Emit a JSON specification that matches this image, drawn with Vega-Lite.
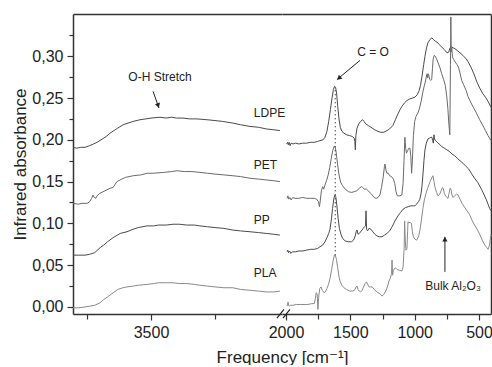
{
  "$schema": "https://vega.github.io/schema/vega-lite/v6.json",
  "padding": {"left": 11, "top": 14, "right": 0, "bottom": 0},
  "background": "white",
  "config": {
    "font": "Liberation Sans",
    "view": {"stroke": null},
    "axis": {
      "grid": false,
      "domainColor": "#333333",
      "tickColor": "#333333",
      "labelColor": "#222222",
      "titleColor": "#222222",
      "labelFont": "Liberation Sans",
      "titleFont": "Liberation Sans, DejaVu Sans",
      "titleFontWeight": "normal",
      "domainWidth": 1.5,
      "tickWidth": 1.2
    }
  },
  "datasets": {
    "labels": [
      {"s": "LDPE", "f": 3098, "a": 0.232},
      {"s": "PET", "f": 3098, "a": 0.170},
      {"s": "PP", "f": 3098, "a": 0.104},
      {"s": "PLA", "f": 3098, "a": 0.041}
    ],
    "spectra": [
      {"s":"LDPE","f":3805,"a":0.191},{"s":"LDPE","f":3790,"a":0.190},{"s":"LDPE","f":3775,"a":0.191},{"s":"LDPE","f":3758,"a":0.191},{"s":"LDPE","f":3740,"a":0.193},{"s":"LDPE","f":3725,"a":0.195},{"s":"LDPE","f":3711,"a":0.197},{"s":"LDPE","f":3690,"a":0.201},{"s":"LDPE","f":3675,"a":0.204},{"s":"LDPE","f":3660,"a":0.208},{"s":"LDPE","f":3645,"a":0.211},{"s":"LDPE","f":3630,"a":0.214},{"s":"LDPE","f":3609,"a":0.218},{"s":"LDPE","f":3590,"a":0.220},{"s":"LDPE","f":3570,"a":0.222},{"s":"LDPE","f":3543,"a":0.224},{"s":"LDPE","f":3520,"a":0.225},{"s":"LDPE","f":3500,"a":0.226},{"s":"LDPE","f":3465,"a":0.227},{"s":"LDPE","f":3440,"a":0.226},{"s":"LDPE","f":3420,"a":0.227},{"s":"LDPE","f":3400,"a":0.226},{"s":"LDPE","f":3375,"a":0.226},{"s":"LDPE","f":3350,"a":0.225},{"s":"LDPE","f":3320,"a":0.225},{"s":"LDPE","f":3281,"a":0.224},{"s":"LDPE","f":3250,"a":0.223},{"s":"LDPE","f":3220,"a":0.222},{"s":"LDPE","f":3180,"a":0.220},{"s":"LDPE","f":3150,"a":0.218},{"s":"LDPE","f":3113,"a":0.216},{"s":"LDPE","f":3080,"a":0.215},{"s":"LDPE","f":3050,"a":0.213},{"s":"LDPE","f":3020,"a":0.212},{"s":"LDPE","f":2996,"a":0.211},
      {"s":"PET","f":3805,"a":0.124},{"s":"PET","f":3785,"a":0.123},{"s":"PET","f":3770,"a":0.124},{"s":"PET","f":3750,"a":0.124},{"s":"PET","f":3740,"a":0.126},{"s":"PET","f":3732,"a":0.130},{"s":"PET","f":3727,"a":0.134},{"s":"PET","f":3722,"a":0.131},{"s":"PET","f":3716,"a":0.130},{"s":"PET","f":3711,"a":0.133},{"s":"PET","f":3700,"a":0.136},{"s":"PET","f":3680,"a":0.139},{"s":"PET","f":3660,"a":0.142},{"s":"PET","f":3648,"a":0.143},{"s":"PET","f":3640,"a":0.147},{"s":"PET","f":3633,"a":0.150},{"s":"PET","f":3621,"a":0.152},{"s":"PET","f":3600,"a":0.155},{"s":"PET","f":3570,"a":0.157},{"s":"PET","f":3540,"a":0.158},{"s":"PET","f":3515,"a":0.160},{"s":"PET","f":3492,"a":0.160},{"s":"PET","f":3450,"a":0.161},{"s":"PET","f":3420,"a":0.162},{"s":"PET","f":3398,"a":0.163},{"s":"PET","f":3370,"a":0.162},{"s":"PET","f":3340,"a":0.162},{"s":"PET","f":3309,"a":0.161},{"s":"PET","f":3280,"a":0.160},{"s":"PET","f":3250,"a":0.159},{"s":"PET","f":3215,"a":0.158},{"s":"PET","f":3180,"a":0.157},{"s":"PET","f":3150,"a":0.156},{"s":"PET","f":3113,"a":0.154},{"s":"PET","f":3080,"a":0.153},{"s":"PET","f":3050,"a":0.152},{"s":"PET","f":3020,"a":0.151},{"s":"PET","f":2996,"a":0.150},
      {"s":"PP","f":3805,"a":0.062},{"s":"PP","f":3785,"a":0.062},{"s":"PP","f":3758,"a":0.062},{"s":"PP","f":3740,"a":0.063},{"s":"PP","f":3720,"a":0.065},{"s":"PP","f":3699,"a":0.071},{"s":"PP","f":3685,"a":0.074},{"s":"PP","f":3670,"a":0.078},{"s":"PP","f":3648,"a":0.083},{"s":"PP","f":3620,"a":0.088},{"s":"PP","f":3594,"a":0.090},{"s":"PP","f":3570,"a":0.093},{"s":"PP","f":3550,"a":0.095},{"s":"PP","f":3516,"a":0.097},{"s":"PP","f":3490,"a":0.097},{"s":"PP","f":3470,"a":0.098},{"s":"PP","f":3440,"a":0.098},{"s":"PP","f":3414,"a":0.099},{"s":"PP","f":3390,"a":0.099},{"s":"PP","f":3360,"a":0.098},{"s":"PP","f":3330,"a":0.098},{"s":"PP","f":3309,"a":0.097},{"s":"PP","f":3280,"a":0.096},{"s":"PP","f":3250,"a":0.095},{"s":"PP","f":3215,"a":0.094},{"s":"PP","f":3180,"a":0.092},{"s":"PP","f":3150,"a":0.091},{"s":"PP","f":3113,"a":0.090},{"s":"PP","f":3080,"a":0.089},{"s":"PP","f":3050,"a":0.088},{"s":"PP","f":3020,"a":0.087},{"s":"PP","f":2996,"a":0.086},
      {"s":"PLA","f":3805,"a":-0.001},{"s":"PLA","f":3785,"a":-0.001},{"s":"PLA","f":3758,"a":0.000},{"s":"PLA","f":3740,"a":0.001},{"s":"PLA","f":3720,"a":0.002},{"s":"PLA","f":3699,"a":0.005},{"s":"PLA","f":3685,"a":0.009},{"s":"PLA","f":3670,"a":0.012},{"s":"PLA","f":3648,"a":0.017},{"s":"PLA","f":3630,"a":0.021},{"s":"PLA","f":3610,"a":0.023},{"s":"PLA","f":3594,"a":0.024},{"s":"PLA","f":3570,"a":0.025},{"s":"PLA","f":3550,"a":0.026},{"s":"PLA","f":3516,"a":0.027},{"s":"PLA","f":3490,"a":0.028},{"s":"PLA","f":3470,"a":0.029},{"s":"PLA","f":3440,"a":0.029},{"s":"PLA","f":3414,"a":0.029},{"s":"PLA","f":3390,"a":0.028},{"s":"PLA","f":3360,"a":0.028},{"s":"PLA","f":3330,"a":0.027},{"s":"PLA","f":3309,"a":0.026},{"s":"PLA","f":3280,"a":0.025},{"s":"PLA","f":3250,"a":0.024},{"s":"PLA","f":3215,"a":0.023},{"s":"PLA","f":3180,"a":0.023},{"s":"PLA","f":3150,"a":0.021},{"s":"PLA","f":3113,"a":0.020},{"s":"PLA","f":3080,"a":0.019},{"s":"PLA","f":3050,"a":0.018},{"s":"PLA","f":3020,"a":0.018},{"s":"PLA","f":2996,"a":0.019},
      {"s":"LDPE","f":1995,"a":0.195},{"s":"LDPE","f":1988,"a":0.197},{"s":"LDPE","f":1982,"a":0.194},{"s":"LDPE","f":1976,"a":0.197},{"s":"LDPE","f":1968,"a":0.193},{"s":"LDPE","f":1960,"a":0.196},{"s":"LDPE","f":1945,"a":0.195},{"s":"LDPE","f":1925,"a":0.196},{"s":"LDPE","f":1900,"a":0.195},{"s":"LDPE","f":1870,"a":0.196},{"s":"LDPE","f":1840,"a":0.196},{"s":"LDPE","f":1810,"a":0.197},{"s":"LDPE","f":1780,"a":0.197},{"s":"LDPE","f":1755,"a":0.198},{"s":"LDPE","f":1736,"a":0.199},{"s":"LDPE","f":1712,"a":0.200},{"s":"LDPE","f":1697,"a":0.203},{"s":"LDPE","f":1682,"a":0.210},{"s":"LDPE","f":1668,"a":0.222},{"s":"LDPE","f":1655,"a":0.236},{"s":"LDPE","f":1642,"a":0.250},{"s":"LDPE","f":1632,"a":0.260},{"s":"LDPE","f":1622,"a":0.264},{"s":"LDPE","f":1615,"a":0.263},{"s":"LDPE","f":1607,"a":0.256},{"s":"LDPE","f":1598,"a":0.240},{"s":"LDPE","f":1588,"a":0.225},{"s":"LDPE","f":1578,"a":0.215},{"s":"LDPE","f":1565,"a":0.210},{"s":"LDPE","f":1550,"a":0.208},{"s":"LDPE","f":1530,"a":0.206},{"s":"LDPE","f":1505,"a":0.205},{"s":"LDPE","f":1485,"a":0.204},{"s":"LDPE","f":1470,"a":0.202},{"s":"LDPE","f":1465,"a":0.198},{"s":"LDPE","f":1461,"a":0.188},{"s":"LDPE","f":1457,"a":0.205},{"s":"LDPE","f":1448,"a":0.214},{"s":"LDPE","f":1435,"a":0.219},{"s":"LDPE","f":1420,"a":0.222},{"s":"LDPE","f":1405,"a":0.224},{"s":"LDPE","f":1394,"a":0.222},{"s":"LDPE","f":1380,"a":0.219},{"s":"LDPE","f":1360,"a":0.217},{"s":"LDPE","f":1340,"a":0.215},{"s":"LDPE","f":1310,"a":0.212},{"s":"LDPE","f":1285,"a":0.210},{"s":"LDPE","f":1265,"a":0.209},{"s":"LDPE","f":1240,"a":0.209},{"s":"LDPE","f":1215,"a":0.211},{"s":"LDPE","f":1195,"a":0.213},{"s":"LDPE","f":1170,"a":0.217},{"s":"LDPE","f":1150,"a":0.224},{"s":"LDPE","f":1130,"a":0.231},{"s":"LDPE","f":1114,"a":0.236},{"s":"LDPE","f":1099,"a":0.240},{"s":"LDPE","f":1080,"a":0.244},{"s":"LDPE","f":1060,"a":0.247},{"s":"LDPE","f":1037,"a":0.249},{"s":"LDPE","f":1015,"a":0.250},{"s":"LDPE","f":998,"a":0.251},{"s":"LDPE","f":980,"a":0.254},{"s":"LDPE","f":965,"a":0.259},{"s":"LDPE","f":955,"a":0.265},{"s":"LDPE","f":943,"a":0.276},{"s":"LDPE","f":930,"a":0.290},{"s":"LDPE","f":920,"a":0.300},{"s":"LDPE","f":908,"a":0.310},{"s":"LDPE","f":897,"a":0.316},{"s":"LDPE","f":881,"a":0.320},{"s":"LDPE","f":866,"a":0.322},{"s":"LDPE","f":855,"a":0.320},{"s":"LDPE","f":840,"a":0.318},{"s":"LDPE","f":827,"a":0.317},{"s":"LDPE","f":810,"a":0.314},{"s":"LDPE","f":790,"a":0.311},{"s":"LDPE","f":770,"a":0.308},{"s":"LDPE","f":749,"a":0.304},{"s":"LDPE","f":735,"a":0.305},{"s":"LDPE","f":725,"a":0.310},{"s":"LDPE","f":712,"a":0.311},{"s":"LDPE","f":700,"a":0.310},{"s":"LDPE","f":687,"a":0.309},{"s":"LDPE","f":671,"a":0.307},{"s":"LDPE","f":655,"a":0.305},{"s":"LDPE","f":640,"a":0.303},{"s":"LDPE","f":620,"a":0.300},{"s":"LDPE","f":600,"a":0.297},{"s":"LDPE","f":580,"a":0.292},{"s":"LDPE","f":560,"a":0.286},{"s":"LDPE","f":540,"a":0.279},{"s":"LDPE","f":516,"a":0.269},{"s":"LDPE","f":495,"a":0.262},{"s":"LDPE","f":470,"a":0.255},{"s":"LDPE","f":450,"a":0.251},{"s":"LDPE","f":430,"a":0.246},{"s":"LDPE","f":407,"a":0.239},
      {"s":"PET","f":1992,"a":0.130},{"s":"PET","f":1985,"a":0.133},{"s":"PET","f":1978,"a":0.129},{"s":"PET","f":1970,"a":0.131},{"s":"PET","f":1960,"a":0.128},{"s":"PET","f":1948,"a":0.131},{"s":"PET","f":1930,"a":0.130},{"s":"PET","f":1900,"a":0.130},{"s":"PET","f":1870,"a":0.131},{"s":"PET","f":1840,"a":0.130},{"s":"PET","f":1810,"a":0.130},{"s":"PET","f":1780,"a":0.130},{"s":"PET","f":1762,"a":0.129},{"s":"PET","f":1748,"a":0.126},{"s":"PET","f":1740,"a":0.120},{"s":"PET","f":1733,"a":0.128},{"s":"PET","f":1725,"a":0.139},{"s":"PET","f":1715,"a":0.144},{"s":"PET","f":1707,"a":0.141},{"s":"PET","f":1697,"a":0.146},{"s":"PET","f":1685,"a":0.151},{"s":"PET","f":1672,"a":0.158},{"s":"PET","f":1660,"a":0.167},{"s":"PET","f":1648,"a":0.178},{"s":"PET","f":1637,"a":0.187},{"s":"PET","f":1627,"a":0.192},{"s":"PET","f":1619,"a":0.192},{"s":"PET","f":1610,"a":0.185},{"s":"PET","f":1600,"a":0.172},{"s":"PET","f":1588,"a":0.158},{"s":"PET","f":1575,"a":0.149},{"s":"PET","f":1560,"a":0.145},{"s":"PET","f":1540,"a":0.141},{"s":"PET","f":1515,"a":0.138},{"s":"PET","f":1490,"a":0.137},{"s":"PET","f":1470,"a":0.138},{"s":"PET","f":1450,"a":0.139},{"s":"PET","f":1430,"a":0.142},{"s":"PET","f":1415,"a":0.144},{"s":"PET","f":1405,"a":0.143},{"s":"PET","f":1390,"a":0.141},{"s":"PET","f":1375,"a":0.141},{"s":"PET","f":1355,"a":0.138},{"s":"PET","f":1335,"a":0.135},{"s":"PET","f":1315,"a":0.131},{"s":"PET","f":1300,"a":0.130},{"s":"PET","f":1285,"a":0.131},{"s":"PET","f":1270,"a":0.134},{"s":"PET","f":1258,"a":0.143},{"s":"PET","f":1245,"a":0.155},{"s":"PET","f":1235,"a":0.168},{"s":"PET","f":1231,"a":0.171},{"s":"PET","f":1222,"a":0.163},{"s":"PET","f":1215,"a":0.160},{"s":"PET","f":1205,"a":0.160},{"s":"PET","f":1195,"a":0.157},{"s":"PET","f":1180,"a":0.156},{"s":"PET","f":1165,"a":0.153},{"s":"PET","f":1155,"a":0.148},{"s":"PET","f":1145,"a":0.138},{"s":"PET","f":1135,"a":0.133},{"s":"PET","f":1115,"a":0.133},{"s":"PET","f":1100,"a":0.134},{"s":"PET","f":1090,"a":0.148},{"s":"PET","f":1083,"a":0.175},{"s":"PET","f":1076,"a":0.203},{"s":"PET","f":1070,"a":0.190},{"s":"PET","f":1064,"a":0.184},{"s":"PET","f":1055,"a":0.187},{"s":"PET","f":1045,"a":0.190},{"s":"PET","f":1037,"a":0.190},{"s":"PET","f":1030,"a":0.180},{"s":"PET","f":1024,"a":0.160},{"s":"PET","f":1018,"a":0.175},{"s":"PET","f":1010,"a":0.205},{"s":"PET","f":1000,"a":0.222},{"s":"PET","f":990,"a":0.228},{"s":"PET","f":975,"a":0.232},{"s":"PET","f":962,"a":0.238},{"s":"PET","f":950,"a":0.246},{"s":"PET","f":938,"a":0.256},{"s":"PET","f":928,"a":0.263},{"s":"PET","f":918,"a":0.269},{"s":"PET","f":910,"a":0.275},{"s":"PET","f":904,"a":0.279},{"s":"PET","f":899,"a":0.274},{"s":"PET","f":894,"a":0.279},{"s":"PET","f":889,"a":0.276},{"s":"PET","f":882,"a":0.272},{"s":"PET","f":875,"a":0.271},{"s":"PET","f":868,"a":0.272},{"s":"PET","f":862,"a":0.285},{"s":"PET","f":856,"a":0.297},{"s":"PET","f":848,"a":0.301},{"s":"PET","f":840,"a":0.300},{"s":"PET","f":830,"a":0.297},{"s":"PET","f":818,"a":0.292},{"s":"PET","f":805,"a":0.287},{"s":"PET","f":790,"a":0.279},{"s":"PET","f":775,"a":0.272},{"s":"PET","f":762,"a":0.265},{"s":"PET","f":750,"a":0.251},{"s":"PET","f":742,"a":0.237},{"s":"PET","f":734,"a":0.218},{"s":"PET","f":727,"a":0.206},{"s":"PET","f":722,"a":0.290},{"s":"PET","f":719,"a":0.347},{"s":"PET","f":716,"a":0.305},{"s":"PET","f":712,"a":0.310},{"s":"PET","f":706,"a":0.299},{"s":"PET","f":697,"a":0.296},{"s":"PET","f":685,"a":0.293},{"s":"PET","f":671,"a":0.290},{"s":"PET","f":660,"a":0.287},{"s":"PET","f":648,"a":0.280},{"s":"PET","f":635,"a":0.271},{"s":"PET","f":620,"a":0.266},{"s":"PET","f":600,"a":0.259},{"s":"PET","f":586,"a":0.252},{"s":"PET","f":565,"a":0.245},{"s":"PET","f":545,"a":0.239},{"s":"PET","f":520,"a":0.232},{"s":"PET","f":495,"a":0.224},{"s":"PET","f":470,"a":0.217},{"s":"PET","f":450,"a":0.211},{"s":"PET","f":430,"a":0.205},{"s":"PET","f":407,"a":0.199},
      {"s":"PP","f":1992,"a":0.066},{"s":"PP","f":1986,"a":0.068},{"s":"PP","f":1980,"a":0.065},{"s":"PP","f":1972,"a":0.067},{"s":"PP","f":1962,"a":0.064},{"s":"PP","f":1950,"a":0.066},{"s":"PP","f":1925,"a":0.066},{"s":"PP","f":1900,"a":0.067},{"s":"PP","f":1870,"a":0.067},{"s":"PP","f":1840,"a":0.068},{"s":"PP","f":1810,"a":0.069},{"s":"PP","f":1780,"a":0.069},{"s":"PP","f":1755,"a":0.070},{"s":"PP","f":1736,"a":0.072},{"s":"PP","f":1715,"a":0.074},{"s":"PP","f":1697,"a":0.078},{"s":"PP","f":1682,"a":0.083},{"s":"PP","f":1668,"a":0.088},{"s":"PP","f":1658,"a":0.093},{"s":"PP","f":1648,"a":0.104},{"s":"PP","f":1638,"a":0.118},{"s":"PP","f":1628,"a":0.130},{"s":"PP","f":1620,"a":0.134},{"s":"PP","f":1613,"a":0.132},{"s":"PP","f":1605,"a":0.122},{"s":"PP","f":1595,"a":0.106},{"s":"PP","f":1585,"a":0.094},{"s":"PP","f":1573,"a":0.087},{"s":"PP","f":1560,"a":0.082},{"s":"PP","f":1540,"a":0.079},{"s":"PP","f":1515,"a":0.078},{"s":"PP","f":1490,"a":0.078},{"s":"PP","f":1475,"a":0.080},{"s":"PP","f":1462,"a":0.085},{"s":"PP","f":1455,"a":0.090},{"s":"PP","f":1448,"a":0.092},{"s":"PP","f":1440,"a":0.087},{"s":"PP","f":1430,"a":0.088},{"s":"PP","f":1415,"a":0.091},{"s":"PP","f":1400,"a":0.094},{"s":"PP","f":1390,"a":0.096},{"s":"PP","f":1382,"a":0.097},{"s":"PP","f":1378,"a":0.115},{"s":"PP","f":1374,"a":0.093},{"s":"PP","f":1366,"a":0.091},{"s":"PP","f":1355,"a":0.094},{"s":"PP","f":1340,"a":0.093},{"s":"PP","f":1325,"a":0.090},{"s":"PP","f":1310,"a":0.087},{"s":"PP","f":1293,"a":0.085},{"s":"PP","f":1275,"a":0.084},{"s":"PP","f":1254,"a":0.084},{"s":"PP","f":1235,"a":0.086},{"s":"PP","f":1215,"a":0.088},{"s":"PP","f":1195,"a":0.091},{"s":"PP","f":1175,"a":0.096},{"s":"PP","f":1153,"a":0.103},{"s":"PP","f":1130,"a":0.109},{"s":"PP","f":1110,"a":0.113},{"s":"PP","f":1090,"a":0.117},{"s":"PP","f":1070,"a":0.119},{"s":"PP","f":1050,"a":0.120},{"s":"PP","f":1030,"a":0.121},{"s":"PP","f":1010,"a":0.121},{"s":"PP","f":998,"a":0.121},{"s":"PP","f":985,"a":0.123},{"s":"PP","f":970,"a":0.126},{"s":"PP","f":960,"a":0.129},{"s":"PP","f":950,"a":0.136},{"s":"PP","f":943,"a":0.145},{"s":"PP","f":935,"a":0.160},{"s":"PP","f":928,"a":0.175},{"s":"PP","f":920,"a":0.188},{"s":"PP","f":910,"a":0.196},{"s":"PP","f":897,"a":0.201},{"s":"PP","f":885,"a":0.202},{"s":"PP","f":875,"a":0.203},{"s":"PP","f":866,"a":0.203},{"s":"PP","f":860,"a":0.199},{"s":"PP","f":855,"a":0.196},{"s":"PP","f":850,"a":0.206},{"s":"PP","f":846,"a":0.201},{"s":"PP","f":838,"a":0.199},{"s":"PP","f":825,"a":0.197},{"s":"PP","f":810,"a":0.195},{"s":"PP","f":790,"a":0.192},{"s":"PP","f":770,"a":0.190},{"s":"PP","f":750,"a":0.188},{"s":"PP","f":730,"a":0.186},{"s":"PP","f":710,"a":0.183},{"s":"PP","f":690,"a":0.181},{"s":"PP","f":670,"a":0.178},{"s":"PP","f":648,"a":0.175},{"s":"PP","f":625,"a":0.172},{"s":"PP","f":600,"a":0.168},{"s":"PP","f":580,"a":0.165},{"s":"PP","f":560,"a":0.160},{"s":"PP","f":535,"a":0.154},{"s":"PP","f":510,"a":0.149},{"s":"PP","f":492,"a":0.144},{"s":"PP","f":475,"a":0.139},{"s":"PP","f":460,"a":0.134},{"s":"PP","f":445,"a":0.129},{"s":"PP","f":430,"a":0.123},{"s":"PP","f":418,"a":0.118},{"s":"PP","f":407,"a":0.115},
      {"s":"PLA","f":1992,"a":0.001},{"s":"PLA","f":1988,"a":0.004},{"s":"PLA","f":1984,"a":0.006},{"s":"PLA","f":1980,"a":0.002},{"s":"PLA","f":1975,"a":0.001},{"s":"PLA","f":1965,"a":0.002},{"s":"PLA","f":1946,"a":0.002},{"s":"PLA","f":1920,"a":0.003},{"s":"PLA","f":1890,"a":0.003},{"s":"PLA","f":1860,"a":0.003},{"s":"PLA","f":1830,"a":0.003},{"s":"PLA","f":1800,"a":0.004},{"s":"PLA","f":1780,"a":0.004},{"s":"PLA","f":1772,"a":0.010},{"s":"PLA","f":1765,"a":0.017},{"s":"PLA","f":1758,"a":0.016},{"s":"PLA","f":1752,"a":-0.003},{"s":"PLA","f":1746,"a":0.012},{"s":"PLA","f":1738,"a":0.022},{"s":"PLA","f":1728,"a":0.024},{"s":"PLA","f":1718,"a":0.020},{"s":"PLA","f":1705,"a":0.017},{"s":"PLA","f":1695,"a":0.018},{"s":"PLA","f":1682,"a":0.022},{"s":"PLA","f":1670,"a":0.027},{"s":"PLA","f":1658,"a":0.034},{"s":"PLA","f":1645,"a":0.045},{"s":"PLA","f":1633,"a":0.056},{"s":"PLA","f":1624,"a":0.062},{"s":"PLA","f":1617,"a":0.062},{"s":"PLA","f":1608,"a":0.057},{"s":"PLA","f":1598,"a":0.047},{"s":"PLA","f":1588,"a":0.036},{"s":"PLA","f":1578,"a":0.030},{"s":"PLA","f":1565,"a":0.026},{"s":"PLA","f":1550,"a":0.023},{"s":"PLA","f":1530,"a":0.021},{"s":"PLA","f":1505,"a":0.019},{"s":"PLA","f":1485,"a":0.019},{"s":"PLA","f":1468,"a":0.020},{"s":"PLA","f":1455,"a":0.024},{"s":"PLA","f":1448,"a":0.025},{"s":"PLA","f":1440,"a":0.021},{"s":"PLA","f":1430,"a":0.019},{"s":"PLA","f":1420,"a":0.018},{"s":"PLA","f":1408,"a":0.020},{"s":"PLA","f":1395,"a":0.025},{"s":"PLA","f":1385,"a":0.028},{"s":"PLA","f":1375,"a":0.030},{"s":"PLA","f":1365,"a":0.027},{"s":"PLA","f":1355,"a":0.024},{"s":"PLA","f":1345,"a":0.024},{"s":"PLA","f":1330,"a":0.024},{"s":"PLA","f":1315,"a":0.021},{"s":"PLA","f":1300,"a":0.019},{"s":"PLA","f":1285,"a":0.017},{"s":"PLA","f":1270,"a":0.016},{"s":"PLA","f":1254,"a":0.013},{"s":"PLA","f":1240,"a":0.015},{"s":"PLA","f":1225,"a":0.019},{"s":"PLA","f":1210,"a":0.025},{"s":"PLA","f":1200,"a":0.031},{"s":"PLA","f":1190,"a":0.034},{"s":"PLA","f":1180,"a":0.040},{"s":"PLA","f":1176,"a":0.056},{"s":"PLA","f":1172,"a":0.038},{"s":"PLA","f":1165,"a":0.044},{"s":"PLA","f":1150,"a":0.047},{"s":"PLA","f":1138,"a":0.045},{"s":"PLA","f":1120,"a":0.044},{"s":"PLA","f":1099,"a":0.043},{"s":"PLA","f":1090,"a":0.048},{"s":"PLA","f":1082,"a":0.070},{"s":"PLA","f":1078,"a":0.103},{"s":"PLA","f":1073,"a":0.080},{"s":"PLA","f":1068,"a":0.068},{"s":"PLA","f":1060,"a":0.070},{"s":"PLA","f":1055,"a":0.090},{"s":"PLA","f":1052,"a":0.102},{"s":"PLA","f":1045,"a":0.101},{"s":"PLA","f":1035,"a":0.101},{"s":"PLA","f":1025,"a":0.100},{"s":"PLA","f":1018,"a":0.090},{"s":"PLA","f":1010,"a":0.084},{"s":"PLA","f":998,"a":0.081},{"s":"PLA","f":985,"a":0.080},{"s":"PLA","f":970,"a":0.084},{"s":"PLA","f":959,"a":0.092},{"s":"PLA","f":948,"a":0.104},{"s":"PLA","f":936,"a":0.118},{"s":"PLA","f":925,"a":0.128},{"s":"PLA","f":912,"a":0.136},{"s":"PLA","f":897,"a":0.143},{"s":"PLA","f":880,"a":0.150},{"s":"PLA","f":866,"a":0.155},{"s":"PLA","f":858,"a":0.157},{"s":"PLA","f":850,"a":0.150},{"s":"PLA","f":842,"a":0.143},{"s":"PLA","f":830,"a":0.137},{"s":"PLA","f":819,"a":0.133},{"s":"PLA","f":805,"a":0.135},{"s":"PLA","f":795,"a":0.139},{"s":"PLA","f":785,"a":0.143},{"s":"PLA","f":778,"a":0.142},{"s":"PLA","f":770,"a":0.136},{"s":"PLA","f":760,"a":0.133},{"s":"PLA","f":749,"a":0.131},{"s":"PLA","f":741,"a":0.130},{"s":"PLA","f":733,"a":0.136},{"s":"PLA","f":725,"a":0.142},{"s":"PLA","f":718,"a":0.141},{"s":"PLA","f":712,"a":0.135},{"s":"PLA","f":702,"a":0.131},{"s":"PLA","f":690,"a":0.133},{"s":"PLA","f":675,"a":0.135},{"s":"PLA","f":663,"a":0.134},{"s":"PLA","f":648,"a":0.129},{"s":"PLA","f":632,"a":0.124},{"s":"PLA","f":615,"a":0.120},{"s":"PLA","f":593,"a":0.115},{"s":"PLA","f":575,"a":0.111},{"s":"PLA","f":555,"a":0.104},{"s":"PLA","f":535,"a":0.098},{"s":"PLA","f":515,"a":0.093},{"s":"PLA","f":495,"a":0.087},{"s":"PLA","f":475,"a":0.080},{"s":"PLA","f":455,"a":0.074},{"s":"PLA","f":440,"a":0.071},{"s":"PLA","f":430,"a":0.069},{"s":"PLA","f":420,"a":0.073},{"s":"PLA","f":407,"a":0.086}
    ]
  },
  "spacing": 0,
  "bounds": "flush",
  "resolve": {"scale": {"x": "independent", "y": "independent"}},
  "hconcat": [
    {
      "width": 209,
      "height": 300,
      "resolve": {"axis": {"x": "independent", "y": "independent"}},
      "layer": [
        {
          "data": {"name": "spectra"},
          "transform": [{"filter": "datum.f > 2500"}],
          "mark": {"type": "line", "strokeWidth": 1},
          "encoding": {
            "x": {
              "field": "f", "type": "quantitative",
              "scale": {"domain": [2988, 3805], "reverse": true, "nice": false, "zero": false},
              "axis": {"orient": "bottom", "values": [3500], "format": "d", "tickSize": 6, "labelFontSize": 16, "labelPadding": 4,
                       "title": "Frequency [cm⁻¹]", "titleFontSize": 17, "titleX": 209, "titleY": 48, "titleAlign": "center", "titleBaseline": "alphabetic"}
            },
            "y": {
              "field": "a", "type": "quantitative",
              "scale": {"domain": [-0.0084, 0.3505], "nice": false, "zero": false},
              "axis": {"orient": "left", "values": [0, 0.05, 0.1, 0.15, 0.2, 0.25, 0.3],
                       "labelExpr": "replace(format(datum.value, '.2f'), '.', ',')",
                       "tickSize": 6, "labelFontSize": 16, "labelPadding": 4,
                       "title": "Infrared absorbance", "titleFontSize": 17, "titleX": -48, "titleY": 150, "titleAlign": "center", "titleBaseline": "alphabetic"}
            },
            "color": {
              "field": "s", "type": "nominal",
              "scale": {"domain": ["LDPE", "PET", "PP", "PLA"], "range": ["#4a4a4a", "#6a6a6a", "#4a4a4a", "#8a8a8a"]},
              "legend": null
            }
          }
        },
        {
          "data": {"name": "labels"},
          "mark": {"type": "text", "align": "left", "baseline": "middle", "fontSize": 12, "color": "#222222"},
          "encoding": {
            "x": {"field": "f", "type": "quantitative",
                  "axis": {"orient": "bottom", "values": [3750, 3250], "labels": false, "tickSize": 5, "domain": false, "title": null}},
            "y": {"field": "a", "type": "quantitative",
                  "axis": {"orient": "left", "values": [0.025, 0.075, 0.125, 0.175, 0.225, 0.275, 0.325], "labels": false, "tickSize": 4, "domain": false, "title": null}},
            "text": {"field": "s"}
          }
        },
        {
          "data": {"values": [{}]},
          "mark": {"type": "text", "text": "O-H Stretch", "align": "center", "baseline": "middle", "fontSize": 12, "color": "#222222"},
          "encoding": {
            "x": {"datum": 3465, "type": "quantitative",
                  "axis": {"orient": "top", "values": [], "ticks": false, "labels": false, "domain": true, "title": null}},
            "y": {"datum": 0.275, "type": "quantitative", "axis": null}
          }
        },
        {
          "data": {"values": [{}]},
          "mark": {"type": "rule", "color": "#222222", "strokeWidth": 1},
          "encoding": {
            "x": {"datum": 3492, "type": "quantitative", "axis": null},
            "y": {"datum": 0.258, "type": "quantitative", "axis": null},
            "x2": {"datum": 3469},
            "y2": {"datum": 0.238}
          }
        },
        {
          "data": {"values": [{}]},
          "mark": {"type": "point", "shape": "triangle-down", "filled": true, "size": 28, "angle": 341, "color": "#222222", "opacity": 1},
          "encoding": {
            "x": {"datum": 3472, "type": "quantitative", "axis": null},
            "y": {"datum": 0.2409, "type": "quantitative", "axis": null}
          }
        }
      ]
    },
    {
      "width": 209,
      "height": 300,
      "resolve": {"axis": {"x": "independent", "y": "independent"}},
      "layer": [
        {
          "data": {"name": "spectra"},
          "transform": [{"filter": "datum.f < 2500"}],
          "mark": {"type": "line", "strokeWidth": 1},
          "encoding": {
            "x": {
              "field": "f", "type": "quantitative",
              "scale": {"domain": [407, 2031], "reverse": true, "nice": false, "zero": false},
              "axis": {"orient": "bottom", "values": [2000, 1500, 1000, 500], "format": "d", "tickSize": 6, "labelFontSize": 16, "labelPadding": 4, "title": null}
            },
            "y": {
              "field": "a", "type": "quantitative",
              "scale": {"domain": [-0.0084, 0.3505], "nice": false, "zero": false},
              "axis": {"orient": "right", "values": [], "ticks": false, "labels": false, "domain": true, "title": null}
            },
            "color": {
              "field": "s", "type": "nominal",
              "scale": {"domain": ["LDPE", "PET", "PP", "PLA"], "range": ["#4a4a4a", "#6a6a6a", "#4a4a4a", "#8a8a8a"]},
              "legend": null
            }
          }
        },
        {
          "data": {"values": [{}]},
          "mark": {"type": "text", "text": "C = O", "align": "center", "baseline": "middle", "fontSize": 12, "color": "#222222"},
          "encoding": {
            "x": {"datum": 1324, "type": "quantitative",
                  "axis": {"orient": "bottom", "values": [1750, 1250, 750], "labels": false, "tickSize": 5, "domain": false, "title": null}},
            "y": {"datum": 0.305, "type": "quantitative", "axis": null}
          }
        },
        {
          "data": {"values": [{}]},
          "mark": {"type": "text", "text": "Bulk Al₂O₃", "align": "center", "baseline": "middle", "fontSize": 12, "color": "#222222", "font": "Liberation Sans, DejaVu Sans"},
          "encoding": {
            "x": {"datum": 702, "type": "quantitative",
                  "axis": {"orient": "top", "values": [], "ticks": false, "labels": false, "domain": true, "title": null}},
            "y": {"datum": 0.025, "type": "quantitative", "axis": null}
          }
        },
        {
          "data": {"values": [{}]},
          "mark": {"type": "rule", "color": "#222222", "strokeWidth": 1},
          "encoding": {
            "x": {"datum": 1425, "type": "quantitative", "axis": null},
            "y": {"datum": 0.295, "type": "quantitative", "axis": null},
            "x2": {"datum": 1604},
            "y2": {"datum": 0.272}
          }
        },
        {
          "data": {"values": [{}]},
          "mark": {"type": "point", "shape": "triangle-down", "filled": true, "size": 28, "angle": 49, "color": "#222222", "opacity": 1},
          "encoding": {
            "x": {"datum": 1589, "type": "quantitative", "axis": null},
            "y": {"datum": 0.2735, "type": "quantitative", "axis": null}
          }
        },
        {
          "data": {"values": [{}]},
          "mark": {"type": "rule", "color": "#333333", "strokeWidth": 1.3, "strokeDash": [1, 3]},
          "encoding": {
            "x": {"datum": 1617, "type": "quantitative", "axis": null},
            "y": {"datum": 0.062, "type": "quantitative", "axis": null},
            "y2": {"datum": 0.263}
          }
        },
        {
          "data": {"values": [{}]},
          "mark": {"type": "rule", "color": "#222222", "strokeWidth": 1},
          "encoding": {
            "x": {"datum": 765, "type": "quantitative", "axis": null},
            "y": {"datum": 0.042, "type": "quantitative", "axis": null},
            "y2": {"datum": 0.084}
          }
        },
        {
          "data": {"values": [{}]},
          "mark": {"type": "point", "shape": "triangle-up", "filled": true, "size": 28, "color": "#222222", "opacity": 1},
          "encoding": {
            "x": {"datum": 765, "type": "quantitative", "axis": null},
            "y": {"datum": 0.081, "type": "quantitative", "axis": null}
          }
        },
        {
          "data": {"values": [{}]},
          "mark": {"type": "rule", "color": "#222222", "strokeWidth": 1.2},
          "encoding": {
            "x": {"datum": 2070, "type": "quantitative", "axis": null},
            "y": {"datum": -0.0132, "type": "quantitative", "axis": null},
            "x2": {"datum": 2016},
            "y2": {"datum": -0.003}
          }
        },
        {
          "data": {"values": [{}]},
          "mark": {"type": "rule", "color": "#222222", "strokeWidth": 1.2},
          "encoding": {
            "x": {"datum": 2023, "type": "quantitative", "axis": null},
            "y": {"datum": -0.0132, "type": "quantitative", "axis": null},
            "x2": {"datum": 1969},
            "y2": {"datum": -0.003}
          }
        }
      ]
    }
  ]
}
